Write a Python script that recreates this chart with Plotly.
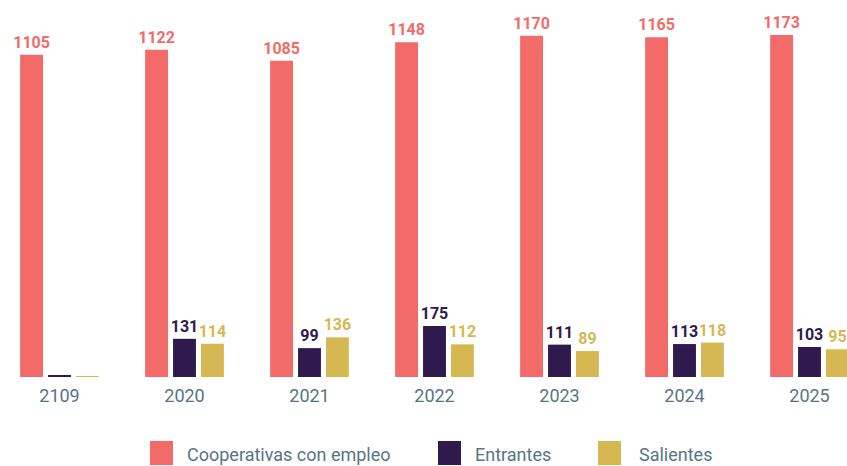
import plotly.graph_objects as go

# ── data ─────────────────────────────────────────────────────────────────────
years = ["2109", "2020", "2021", "2022", "2023", "2024", "2025"]
cooperativas = [1105, 1122, 1085, 1148, 1170, 1165, 1173]
entrantes = [6, 131, 99, 175, 111, 113, 103]
salientes = [2, 114, 136, 112, 89, 118, 95]
# first year shows no labels for the small bars
entrantes_text = ["", "131", "99", "175", "111", "113", "103"]
salientes_text = ["", "114", "136", "112", "89", "118", "95"]

series = [
    ("Cooperativas con empleo", cooperativas, [str(v) for v in cooperativas], "#F26B69"),
    ("Entrantes", entrantes, entrantes_text, "#2F1A4E"),
    ("Salientes", salientes, salientes_text, "#D5B851"),
]

W, H = 847, 466
M_L, M_R, M_T, M_B = 5, 0, 0, 89
LABEL_COLOR = "#557584"
FONT = "Roboto, Open Sans, sans-serif"


def px_to_paper(x, y):
    pw = W - M_L - M_R
    ph = H - M_T - M_B
    return (x - M_L) / pw, (H - M_B - y) / ph


fig = go.Figure()
for name, vals, txt, color in series:
    fig.add_trace(go.Bar(
        x=years, y=vals, name=name, marker_color=color, marker_line_width=0,
        text=txt, textposition="outside", cliponaxis=False,
        constraintext="none",
        textfont=dict(family=FONT, size=16, color=color, weight="bold"),
        showlegend=False,
    ))

# ── custom legend with large square swatches ────────────────────────────────
legend_items = [(150, 185, series[0]), (438, 473, series[1]), (598, 637, series[2])]
shapes, annotations = [], []
for sx, tx, (name, _v, _t, color) in legend_items:
    x0, y0 = px_to_paper(sx, 465)
    x1, y1 = px_to_paper(sx + 23, 441)
    shapes.append(dict(type="rect", xref="paper", yref="paper",
                       x0=x0, x1=x1, y0=y0, y1=y1,
                       fillcolor=color, line_width=0))
    ax, ay = px_to_paper(tx, 454)
    annotations.append(dict(text=name, xref="paper", yref="paper", x=ax, y=ay,
                            xanchor="left", yanchor="middle", showarrow=False,
                            font=dict(family=FONT, size=18, color=LABEL_COLOR)))

fig.update_layout(
    width=W, height=H,
    margin=dict(l=M_L, r=M_R, t=M_T, b=M_B),
    barmode="group", bargap=0.33, bargroupgap=0.18,
    plot_bgcolor="white", paper_bgcolor="white",
    shapes=shapes, annotations=annotations,
    xaxis=dict(type="category", range=[-0.436, 6.3], showgrid=False,
               showline=False, zeroline=False, ticks="",
               ticklabelstandoff=6,
               tickfont=dict(family=FONT, size=18, color=LABEL_COLOR)),
    yaxis=dict(range=[0, 1293], visible=False, showgrid=False, zeroline=False),
)

# page body margin would push the figure off the 847x466 window
fig.write_html("out.html", config={"displayModeBar": False},
               post_script="document.body.style.margin='0';")
